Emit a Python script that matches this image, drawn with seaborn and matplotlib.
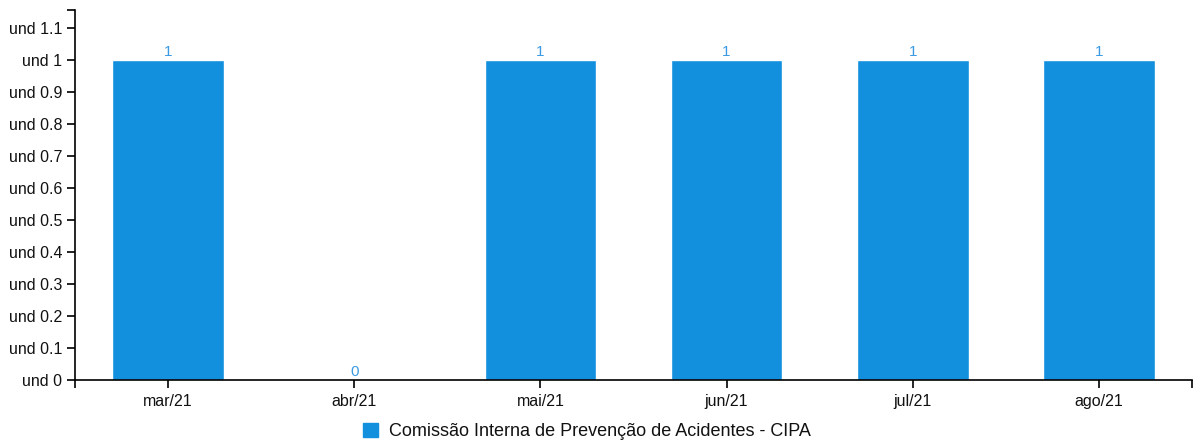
import matplotlib.pyplot as plt
import pandas as pd
import seaborn as sns

months = ["mar/21", "abr/21", "mai/21", "jun/21", "jul/21", "ago/21"]
values = [1, 0, 1, 1, 1, 1]
series_name = "Comissão Interna de Prevenção de Acidentes - CIPA"
y_ticks = [0, 0.1, 0.2, 0.3, 0.4, 0.5, 0.6, 0.7, 0.8, 0.9, 1.0, 1.1]

BAR_COLOR = "#1290de"
LABEL_COLOR = "#3a9ae3"

sns.set_theme(style="white")
plt.rcParams["font.family"] = ["Liberation Sans", "DejaVu Sans"]


def main() -> None:
    df = pd.DataFrame({"month": months, "value": values, "serie": series_name})

    fig = plt.figure(figsize=(11.94, 4.45), dpi=100)
    ax = fig.add_axes([75 / 1194, 65 / 445, 1117 / 1194, 370 / 445])

    sns.barplot(data=df, x="month", y="value", hue="serie", palette=[BAR_COLOR],
                width=0.6, saturation=1, ax=ax, legend=False)

    for c in ax.containers:
        ax.bar_label(c, labels=[f"{v:g}" for v in values], padding=1,
                     color=LABEL_COLOR, fontsize=11)

    ax.set_xlim(-0.5, len(months) - 0.5)
    ax.set_ylim(0, 1.156)
    ax.set_yticks(y_ticks)
    ax.set_yticklabels([f"und {t:g}" for t in y_ticks])
    ax.set_xlabel("")
    ax.set_ylabel("")

    # d3-like axis: outer ticks at domain ends
    ax.set_xticks([-0.5, len(months) - 0.5], minor=True)
    ax.set_yticks([1.156], minor=True)
    ax.tick_params(axis="both", which="both", direction="out", length=6,
                   width=1.2, color="black", labelsize=11.5, labelcolor="#111111",
                   bottom=True, left=True)
    ax.tick_params(axis="x", pad=4)
    ax.tick_params(axis="y", pad=3)

    for side in ["top", "right"]:
        ax.spines[side].set_visible(False)
    for side in ["left", "bottom"]:
        ax.spines[side].set_color("black")
        ax.spines[side].set_linewidth(1.2)

    handle = plt.Rectangle((0, 0), 1, 1, color=BAR_COLOR)
    fig.legend([handle], [series_name], loc="center",
               bbox_to_anchor=(0.4916, 0.03), frameon=False, fontsize=13,
               handlelength=0.8, handleheight=0.8, handletextpad=0.6,
               borderpad=0, labelcolor="#111111")

    fig.savefig("out.png", dpi=100)


if __name__ == "__main__":
    main()
